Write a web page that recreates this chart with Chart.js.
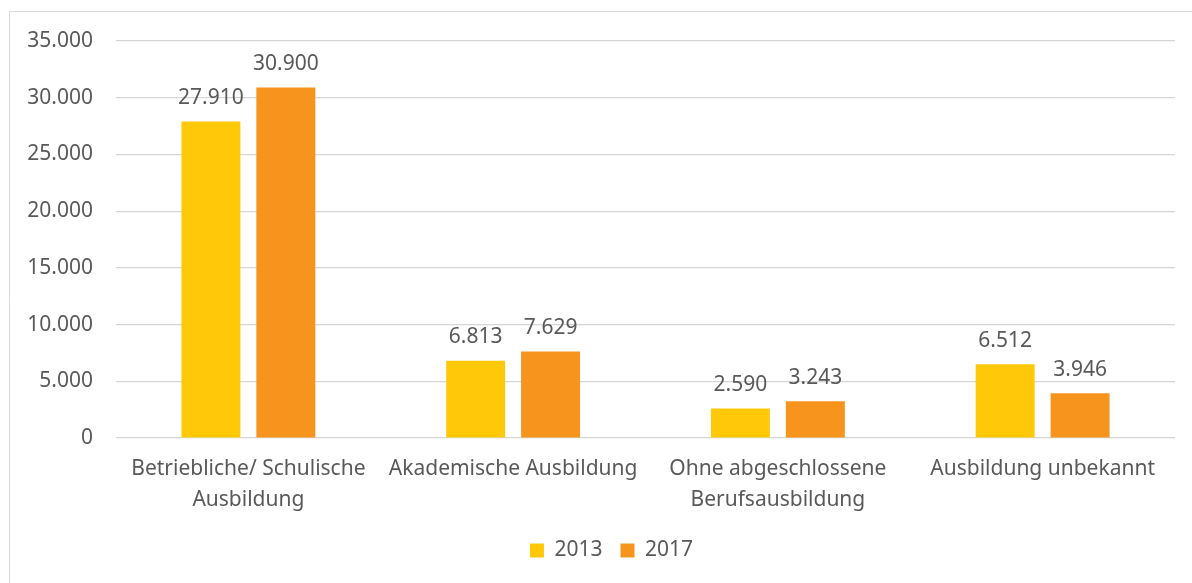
<!DOCTYPE html>
<html>
<head>
<meta charset="utf-8">
<script src="https://cdn.jsdelivr.net/npm/chart.js@4/dist/chart.umd.min.js"></script>
<style>
  html, body { margin: 0; padding: 0; background: #fff; }
  #wrap { width: 1192px; height: 583px; position: relative; }
</style>
</head>
<body>
<div id="wrap"><canvas id="c" width="1192" height="583"></canvas></div>
<script>
const categories = [
  ["Betriebliche/ Schulische", "Ausbildung"],
  "Akademische Ausbildung",
  ["Ohne abgeschlossene", "Berufsausbildung"],
  "Ausbildung unbekannt"
];
const seriesNames = ["2013", "2017"];
const values2013 = [27910, 6813, 2590, 6512];
const values2017 = [30900, 7629, 3243, 3946];
const yTicks = [0, 5000, 10000, 15000, 20000, 25000, 30000, 35000];

const FONT = "'Noto Sans', 'Open Sans', sans-serif";
const TXT = '#595959';
const FS = 21;

function fmt(v) {
  const s = String(Math.round(v));
  return s.replace(/\B(?=(\d{3})+(?!\d))/g, '.');
}

const framePlugin = {
  id: 'frame',
  afterLayout(chart) {
    if (chart.legend) {
      chart.legend.left += 24;
      chart.legend.right += 24;
    }
  },
  beforeDraw(chart) {
    const ctx = chart.ctx;
    ctx.save();
    ctx.fillStyle = '#fff';
    ctx.fillRect(0, 0, chart.width, chart.height);
    ctx.strokeStyle = '#d9d9d9';
    ctx.lineWidth = 1;
    ctx.beginPath();
    ctx.moveTo(9.5, chart.height);
    ctx.lineTo(9.5, 11.5);
    ctx.lineTo(chart.width, 11.5);
    ctx.stroke();
    ctx.restore();
  }
};

const labelPlugin = {
  id: 'valueLabels',
  afterDatasetsDraw(chart) {
    const ctx = chart.ctx;
    ctx.save();
    ctx.font = FS + 'px ' + FONT;
    ctx.fillStyle = TXT;
    ctx.textAlign = 'center';
    ctx.textBaseline = 'bottom';
    chart.data.datasets.forEach((ds, i) => {
      const meta = chart.getDatasetMeta(i);
      meta.data.forEach((bar, j) => {
        ctx.fillText(fmt(ds.data[j]), bar.x, bar.y - 13);
      });
    });
    ctx.restore();
  }
};

new Chart(document.getElementById('c'), {
  type: 'bar',
  data: {
    labels: categories,
    datasets: [
      { label: seriesNames[0], data: values2013, backgroundColor: '#FFC90A' },
      { label: seriesNames[1], data: values2017, backgroundColor: '#F7941E' }
    ]
  },
  options: {
    responsive: false,
    animation: false,
    devicePixelRatio: 1,
    layout: { padding: { left: 0, right: 17, top: 41, bottom: 12 } },
    datasets: { bar: { categoryPercentage: 0.566, barPercentage: 0.787 } },
    plugins: {
      legend: {
        position: 'bottom',
        labels: {
          font: { size: FS, family: FONT },
          color: TXT,
          boxWidth: 14,
          boxHeight: 14,
          padding: 18
        }
      },
      tooltip: { enabled: false }
    },
    scales: {
      x: {
        grid: { display: false, drawTicks: false },
        border: { display: false },
        ticks: {
          font: { size: FS, family: FONT, lineHeight: 1.45 },
          color: TXT,
          padding: 16,
          maxRotation: 0,
          autoSkip: false
        },
        afterFit(s) { s.height = 84; }
      },
      y: {
        min: 0,
        max: 35000,
        afterBuildTicks(s) { s.ticks = yTicks.map(v => ({ value: v })); },
        grid: { color: '#d6d6d6', lineWidth: 1.2, drawTicks: false },
        border: { display: false },
        ticks: {
          font: { size: FS, family: FONT },
          color: TXT,
          padding: 23,
          callback: v => fmt(v)
        },
        afterFit(s) { s.width = 116; }
      }
    }
  },
  plugins: [framePlugin, labelPlugin]
});
</script>
</body>
</html>
